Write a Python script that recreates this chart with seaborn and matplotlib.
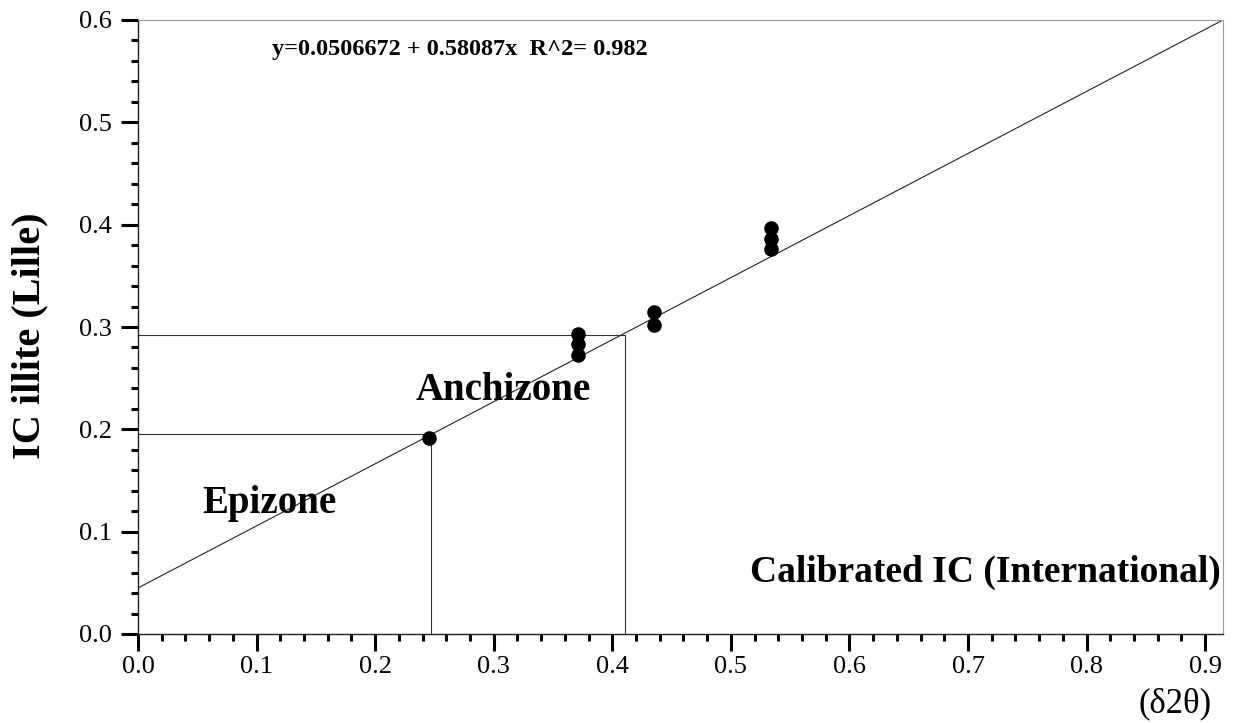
import matplotlib
matplotlib.use("Agg")
import matplotlib.pyplot as plt
import seaborn as sns
import pandas as pd
from matplotlib.ticker import MultipleLocator

# Data
ic_international = [0.245, 0.371, 0.371, 0.371, 0.435, 0.435, 0.534, 0.534, 0.534]
ic_lille = [0.192, 0.293, 0.283, 0.273, 0.315, 0.302, 0.397, 0.386, 0.376]

fit_x = [0.0, 0.915]
fit_y = [0.045, 0.600]

# Zone boundaries (Epizone / Anchizone limits)
epi_limit_x = 0.247
epi_limit_y = 0.195
anchi_limit_x = 0.411
anchi_limit_y = 0.292

equation_text = "y=0.0506672 + 0.58087x  R^2= 0.982"
x_ticks = [0.0, 0.1, 0.2, 0.3, 0.4, 0.5, 0.6, 0.7, 0.8, 0.9]
y_ticks = [0.0, 0.1, 0.2, 0.3, 0.4, 0.5, 0.6]

sns.set_theme(style="ticks")
plt.rcParams["font.family"] = ["Liberation Serif", "DejaVu Serif"]
plt.rcParams["text.color"] = "black"
plt.rcParams["axes.labelcolor"] = "black"
plt.rcParams["xtick.color"] = "black"
plt.rcParams["ytick.color"] = "black"

fig = plt.figure(figsize=(12.38, 7.23), dpi=100)
ax = fig.add_axes([138 / 1238, 1 - 634 / 723, (1223 - 138) / 1238, (634 - 20) / 723])

df = pd.DataFrame({"x": ic_international, "y": ic_lille})
fit_df = pd.DataFrame({"x": fit_x, "y": fit_y})

sns.lineplot(data=fit_df, x="x", y="y", ax=ax, color="#222222", linewidth=0.8, zorder=2)

# zone guide lines
ax.plot([0, anchi_limit_x], [anchi_limit_y, anchi_limit_y], color="#333333", lw=0.8, zorder=1)
ax.plot([anchi_limit_x, anchi_limit_x], [0, anchi_limit_y], color="#333333", lw=0.8, zorder=1)
ax.plot([0, epi_limit_x], [epi_limit_y, epi_limit_y], color="#333333", lw=0.8, zorder=1)
ax.plot([epi_limit_x, epi_limit_x], [0, epi_limit_y], color="#333333", lw=0.8, zorder=1)

sns.scatterplot(data=df, x="x", y="y", ax=ax, color="black", s=110,
                edgecolor="black", linewidth=0, zorder=3)

ax.set_xlim(0, 0.915)
ax.set_ylim(0, 0.6)
ax.set_xticks(x_ticks)
ax.set_yticks(y_ticks)
ax.set_xticklabels([f"{t:.1f}" for t in x_ticks])
ax.set_yticklabels([f"{t:.1f}" for t in y_ticks])
ax.xaxis.set_minor_locator(MultipleLocator(0.02))
ax.yaxis.set_minor_locator(MultipleLocator(0.02))

ax.tick_params(axis="both", which="major", length=12, width=2.2,
               labelsize=19, direction="out")
ax.tick_params(axis="x", which="major", pad=4)
ax.tick_params(axis="y", which="major", pad=7)
ax.tick_params(axis="both", which="minor", length=5, width=2.2, direction="out")

for side in ["left", "bottom"]:
    ax.spines[side].set_color("#222222")
    ax.spines[side].set_linewidth(1.0)
for side in ["top", "right"]:
    ax.spines[side].set_visible(True)
    ax.spines[side].set_color("#999999")
    ax.spines[side].set_linewidth(0.8)

ax.set_xlabel("")
ax.set_ylabel("IC illite (Lille)", fontsize=29, fontweight="bold")
ax.yaxis.set_label_coords(-0.083, 0.485)

ax.text(0.113, 0.571, equation_text, fontsize=17.5, fontweight="bold", ha="left", va="center")
ax.text(0.308, 0.238, "Anchizone", fontsize=28, fontweight="bold", ha="center", va="center")
ax.text(0.111, 0.128, "Epizone", fontsize=28, fontweight="bold", ha="center", va="center")
ax.text(0.913, 0.06, "Calibrated IC (International)", fontsize=27, fontweight="bold",
        ha="right", va="center")

fig.text(1175 / 1238, 1 - 704 / 723, "(δ2θ)", fontsize=25, ha="center", va="center")

fig.savefig("out.png", dpi=100, facecolor="white")
